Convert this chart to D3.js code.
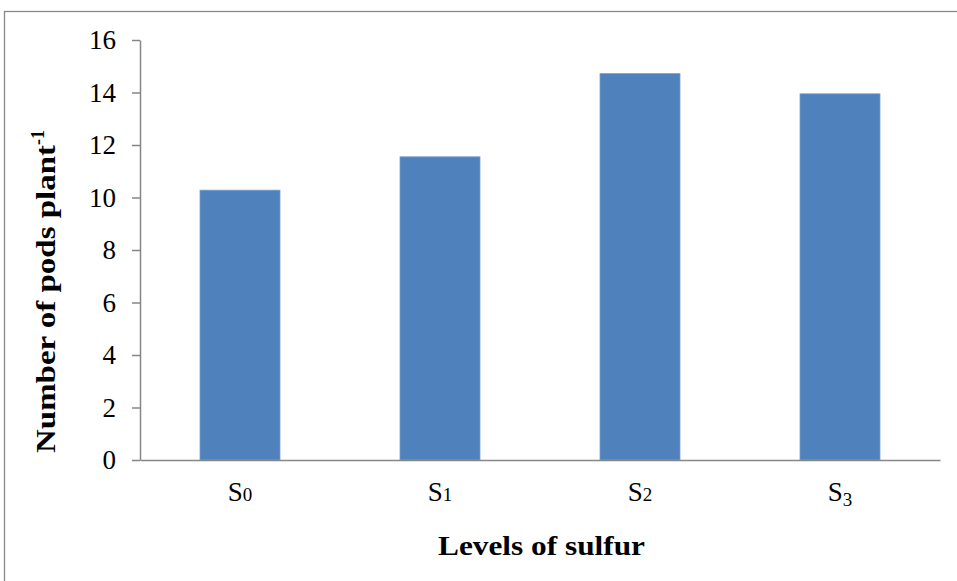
<!DOCTYPE html>
<html>
<head>
<meta charset="utf-8">
<script src="https://cdn.jsdelivr.net/npm/d3@7"></script>
<style>
  html, body { margin: 0; padding: 0; background: #fff; }
  svg { display: block; }
</style>
</head>
<body>
<svg id="chart" width="957" height="581"></svg>
<script>
const categories = ["S", "S", "S", "S"];
const categorySubs = ["0", "1", "2", "3"];
const values = [10.28, 11.55, 14.72, 13.95];
const yTicks = [0, 2, 4, 6, 8, 10, 12, 14, 16];
const xTitle = "Levels of sulfur";
const yTitle = "Number of pods plant";
const yTitleSup = "-1";

const svg = d3.select("#chart");
const W = 957, H = 581;
const m = { left: 140, right: 17, top: 40, bottom: 121 };
const serif = "'Liberation Serif', 'Times New Roman', serif";

// outer frame
svg.append("rect")
  .attr("x", 4.5).attr("y", 11.5)
  .attr("width", 1000).attr("height", 700)
  .attr("fill", "none").attr("stroke", "#898989").attr("stroke-width", 1.3);

const x = d3.scaleBand()
  .domain(d3.range(categories.length))
  .range([m.left, W - m.right])
  .paddingInner(0.6).paddingOuter(0.3);

const y = d3.scaleLinear().domain([0, 16]).range([H - m.bottom, m.top]);

// bars
svg.append("g").selectAll("rect")
  .data(values)
  .join("rect")
  .attr("x", (d, i) => x(i))
  .attr("width", x.bandwidth())
  .attr("y", d => y(d))
  .attr("height", d => y(0) - y(d))
  .attr("fill", "#4F81BD")
  .attr("stroke", "#7A9FD0")
  .attr("stroke-width", 0.8);

// y axis
const yAxis = svg.append("g")
  .attr("transform", `translate(${m.left},0)`)
  .call(d3.axisLeft(y).tickValues(yTicks).tickSize(8).tickSizeOuter(0).tickPadding(16));
yAxis.select(".domain").attr("stroke", "#868686").attr("stroke-width", 1.5);
yAxis.selectAll(".tick line").attr("stroke", "#868686").attr("stroke-width", 1.5);
yAxis.selectAll(".tick text")
  .attr("font-family", serif)
  .attr("font-size", 27).attr("fill", "#000");

// x axis line
const xAxis = svg.append("g")
  .attr("transform", `translate(0,${y(0)})`)
  .call(d3.axisBottom(x).tickSize(0).tickFormat(() => ""));
xAxis.select(".domain").attr("stroke", "#868686").attr("stroke-width", 1.5);
xAxis.selectAll(".tick text").remove();

// x category labels (old-style figure look)
const lab = svg.append("g").selectAll("text")
  .data(categories)
  .join("text")
  .attr("x", (d, i) => x(i) + x.bandwidth() / 2)
  .attr("y", 501)
  .attr("text-anchor", "middle")
  .attr("font-family", serif)
  .attr("font-size", 27)
  .attr("fill", "#000");
lab.append("tspan").text(d => d);
lab.append("tspan")
  .attr("font-size", 19)
  .attr("dy", (d, i) => i === 3 ? 5 : 0)
  .text((d, i) => categorySubs[i]);

// x title
svg.append("text")
  .attr("x", 438)
  .attr("y", 555)
  .attr("textLength", 207)
  .attr("lengthAdjust", "spacingAndGlyphs")
  .attr("font-family", serif)
  .attr("font-weight", "bold")
  .attr("font-size", 28)
  .attr("fill", "#000")
  .text(xTitle);

// y title
const yt = svg.append("text")
  .attr("transform", "translate(55,453) rotate(-90)")
  .attr("font-family", serif)
  .attr("font-weight", "bold")
  .attr("font-size", 28)
  .attr("fill", "#000");
yt.append("tspan")
  .attr("textLength", 308)
  .attr("lengthAdjust", "spacingAndGlyphs")
  .text(yTitle);
yt.append("tspan").attr("font-size", 18).attr("dy", -11).text(yTitleSup);
</script>
</body>
</html>
